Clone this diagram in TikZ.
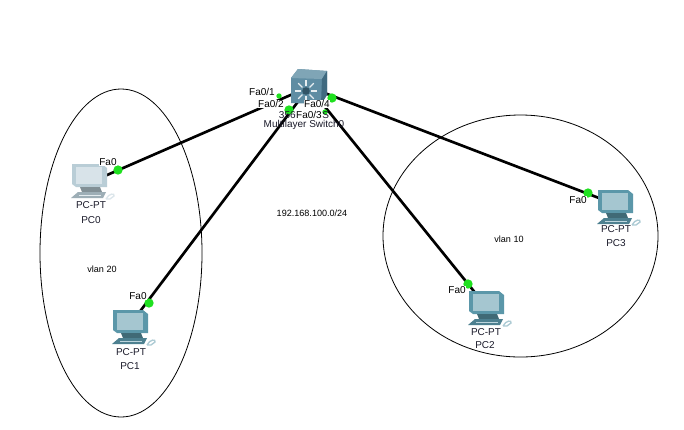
\documentclass[tikz,border=0pt]{standalone}
\usepackage{fontspec}
\setmainfont{Liberation Sans}
\definecolor{pcblue}{HTML}{5B97A9}
\definecolor{pcpale}{HTML}{B9CDD6}
\definecolor{swblue}{HTML}{5F8DA3}
\definecolor{swdark}{HTML}{3F6A80}
\definecolor{swtop}{HTML}{7FA5B6}
\definecolor{portgreen}{HTML}{1FE01F}
\definecolor{devtext}{HTML}{1A1A2A}
\tikzstyle{link}=[line width=2pt,black]
\tikzstyle{port}=[circle,fill=portgreen,minimum size=7pt,inner sep=0pt]
\tikzstyle{smallport}=[circle,fill=portgreen,minimum size=4pt,inner sep=0pt]
\tikzstyle{portname}=[fill=white,inner sep=0.4pt,font=\fontsize{7.5}{8}\selectfont]
\tikzstyle{devname}=[inner sep=0pt,text=devtext,font=\fontsize{7.5}{8}\selectfont]
\tikzstyle{note}=[inner sep=0pt,font=\fontsize{6.8}{8}\selectfont]
\tikzstyle{zone}=[black,line width=0.6pt]
\tikzset{
	pics/pcpt/.style={code={
		% monitor
		\fill[#1] (-18,-17) -- (12,-17) -- (17,-13) -- (17,6) -- (-14,6) -- (-18,3) -- cycle;
		\fill[#1!55!white] (-14,-14) -- (12,-14) -- (12,3) -- (-14,3) -- cycle;
		\fill[#1!70!black] (-10,6) -- (10,6) -- (12,11) -- (-8,11) -- cycle;
		% keyboard
		\fill[#1!85!black] (-12,11) -- (16,11) -- (13,17) -- (-19,17) -- cycle;
		\draw[#1!40!white,line width=0.5pt] (-11,14) -- (11,14);
		% mouse
		\draw[#1!50!white,line width=1pt] (16,18) .. controls (19,12) and (25,12) .. (24,15) -- (20,18) -- (16,18);
	}}
}
\begin{document}
\begin{tikzpicture}[x=0.75pt,y=-0.75pt]
	\useasboundingbox (0,0) rectangle (684,429);
	\fill[white] (0,0) rectangle (684,429);
	\coordinate (sw) at (309,87);
	\coordinate (pc0) at (91,182);
	\coordinate (pc1) at (129,326);
	\coordinate (pc2) at (481,300);
	\coordinate (pc3) at (612,203);
	\draw[zone] (121,253) ellipse [x radius=81,y radius=164];
	\draw[zone] (520.5,236) ellipse [x radius=137.5,y radius=121];
	\draw[link] (pc0) -- (sw);
	\draw[link] (pc1) -- (sw);
	\draw[link] (pc2) -- (sw);
	\draw[link] (pc3) -- (sw);
	\node[port] at (118,170) (dot0) {};
	\node[port] at (149,303) (dot1) {};
	\node[port] at (468,284) (dot2) {};
	\node[port] at (588,193) (dot3) {};
	\node[smallport] at (279,96) (dot4) {};
	\node[port] at (289,110) (dot5) {};
	\node[smallport] at (325,112) (dot6) {};
	\node[port] at (332,98) (dot7) {};
	\pic at (90,181) {pcpt=pcpale};
	\pic at (131,327) {pcpt=pcblue};
	\pic at (487,308) {pcpt=pcblue};
	\pic at (616,207) {pcpt=pcblue};
	% switch
	\fill[swblue] (291,78) -- (298,69) -- (327,71) -- (327,95) -- (321,104) -- (291,103) -- cycle;
	\fill[swtop] (291,78) -- (298,69) -- (327,71) -- (322,79) -- cycle;
	\fill[swdark] (322,79) -- (327,71) -- (327,95) -- (321,104) -- cycle;
	\foreach \a in {0,45,...,315}
		\draw[white!85!swblue,line width=0.9pt] (306,91) ++(\a:5) -- ++(\a:6);
	\fill[swdark!80!black] (306,91) circle (3.8);
	\node[devname] at (304,125) (swname) {Multilayer Switch0};
	\node[devname] at (304,115) (swmodel) {3560-24PS};
	\node[portname] at (262,92) (fa1) {Fa0/1};
	\node[portname] at (271,104) (fa2) {Fa0/2};
	\node[portname] at (317,104) (fa4) {Fa0/4};
	\node[portname] at (309,115) (fa3) {Fa0/3};
	\node[portname] at (108,162) (fa00) {Fa0};
	\node[portname] at (138,296) (fa01) {Fa0};
	\node[portname] at (457,290) (fa02) {Fa0};
	\node[portname] at (578,200) (fa03) {Fa0};
	\node[devname] at (91,205) (pt0) {PC-PT};
	\node[devname] at (91,220) (name0) {PC0};
	\node[devname] at (131,352) (pt1) {PC-PT};
	\node[devname] at (130,366) (name1) {PC1};
	\node[devname] at (486,332) (pt2) {PC-PT};
	\node[devname] at (485,345) (name2) {PC2};
	\node[devname] at (616,229) (pt3) {PC-PT};
	\node[devname] at (616,243) (name3) {PC3};
	\node[note] at (312,213) (net) {192.168.100.0/24};
	\node[note] at (102,269) (vlan20) {vlan 20};
	\node[note] at (509,239) (vlan10) {vlan 10};
\end{tikzpicture}
\end{document}
